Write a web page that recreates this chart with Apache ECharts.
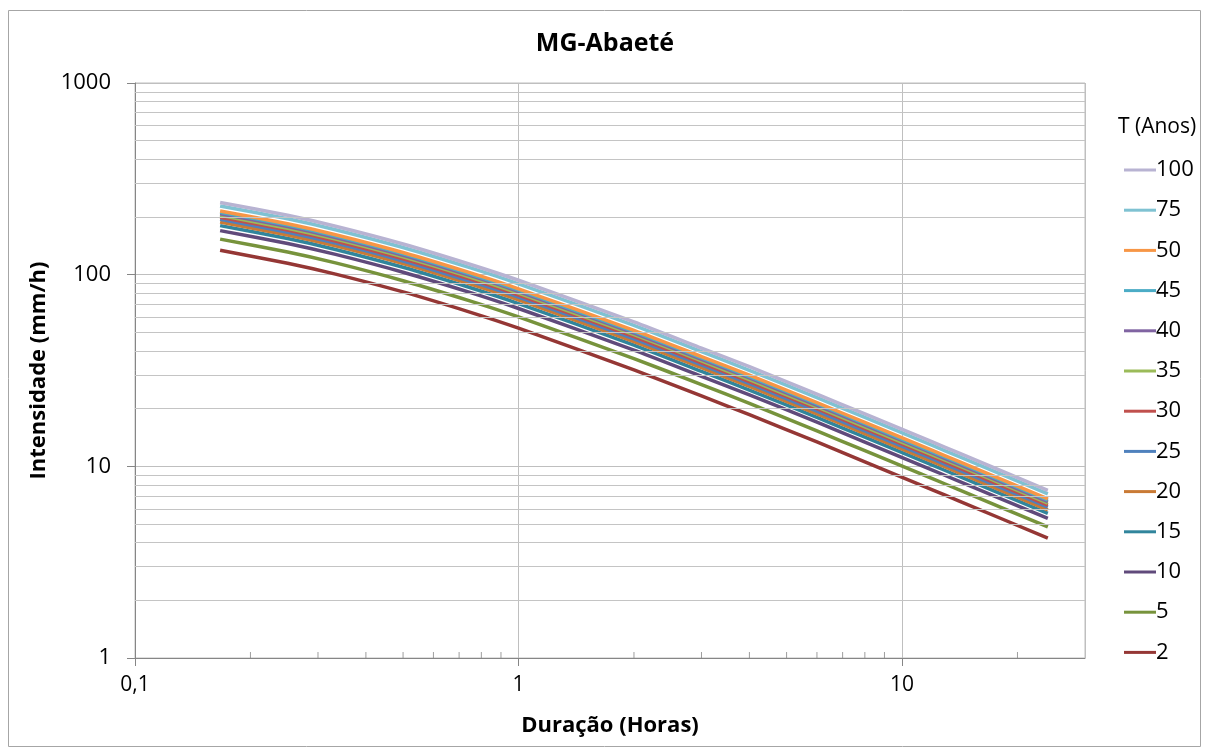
<!DOCTYPE html>
<html>
<head>
<meta charset="utf-8">
<title>MG-Abaeté</title>
<script src="https://cdn.jsdelivr.net/npm/echarts@6/dist/echarts.min.js"></script>
<style>
  html, body { margin: 0; padding: 0; background: #fff; }
  #chart { width: 1210px; height: 756px; }
</style>
</head>
<body>
<div id="chart"></div>
<script>
// duração em horas (10 min ... 24 h)
const duracoes = [0.1667, 0.25, 0.3333, 0.5, 0.75, 1, 2, 3, 4, 6, 8, 12, 14, 24];

// intensidades (mm/h), por período de retorno
const int2   = [134.0, 114.8, 100.7, 81.3, 63.6, 52.6, 31.9, 23.3, 18.6, 13.4, 10.56, 7.54, 6.63, 4.22];
const int5   = [153.3, 131.3, 115.2, 93.0, 72.8, 60.2, 36.5, 26.7, 21.3, 15.3, 12.08, 8.63, 7.58, 4.83];
const int10  = [169.8, 145.5, 127.6, 103.0, 80.6, 66.6, 40.4, 29.5, 23.6, 17.0, 13.38, 9.55, 8.40, 5.35];
const int15  = [180.2, 154.4, 135.4, 109.3, 85.5, 70.7, 42.9, 31.3, 25.0, 18.0, 14.20, 10.14, 8.92, 5.68];
const int20  = [188.0, 161.1, 141.3, 114.1, 89.2, 73.8, 44.8, 32.7, 26.1, 18.8, 14.82, 10.58, 9.30, 5.92];
const int25  = [194.3, 166.5, 146.0, 117.9, 92.2, 76.3, 46.3, 33.8, 27.0, 19.4, 15.31, 10.93, 9.61, 6.12];
const int30  = [199.5, 170.9, 149.9, 121.1, 94.7, 78.3, 47.5, 34.7, 27.7, 20.0, 15.72, 11.23, 9.87, 6.28];
const int35  = [204.1, 174.8, 153.4, 123.8, 96.9, 80.1, 48.6, 35.5, 28.3, 20.4, 16.08, 11.48, 10.10, 6.43];
const int40  = [208.1, 178.3, 156.4, 126.3, 98.8, 81.7, 49.5, 36.2, 28.9, 20.8, 16.40, 11.71, 10.30, 6.55];
const int45  = [211.7, 181.4, 159.1, 128.5, 100.5, 83.1, 50.4, 36.8, 29.4, 21.2, 16.68, 11.91, 10.48, 6.67];
const int50  = [215.1, 184.3, 161.6, 130.5, 102.1, 84.4, 51.2, 37.4, 29.9, 21.5, 16.95, 12.10, 10.64, 6.77];
const int75  = [228.3, 195.6, 171.6, 138.5, 108.4, 89.6, 54.4, 39.7, 31.7, 22.8, 17.99, 12.85, 11.30, 7.19];
const int100 = [238.1, 204.0, 178.9, 144.5, 113.0, 93.5, 56.7, 41.4, 33.1, 23.8, 18.77, 13.40, 11.78, 7.50];

// ordem da legenda (de cima para baixo)
const periodos = ['100', '75', '50', '45', '40', '35', '30', '25', '20', '15', '10', '5', '2'];
const intensidades = {
  '2': int2, '5': int5, '10': int10, '15': int15, '20': int20, '25': int25, '30': int30,
  '35': int35, '40': int40, '45': int45, '50': int50, '75': int75, '100': int100
};
const cores = {
  '100': '#b8b3d2', '75': '#7fc2d2', '50': '#f79646', '45': '#4bacc6', '40': '#8064a2',
  '35': '#9bbb59', '30': '#c0504d', '25': '#4f81bd', '20': '#c97a35', '15': '#31859c',
  '10': '#604a7b', '5': '#77933c', '2': '#953735'
};

// linhas de grade secundárias e marcas menores
const gradeY = [2, 3, 4, 5, 6, 7, 8, 9, 20, 30, 40, 50, 60, 70, 80, 90, 200, 300, 400, 500, 600, 700, 800, 900];
const marcasX = [0.2, 0.3, 0.4, 0.5, 0.6, 0.7, 0.8, 0.9, 2, 3, 4, 5, 6, 7, 8, 9, 20];

const chart = echarts.init(document.getElementById('chart'));

const series = periodos.slice().reverse().map(function (t) {
  return {
    name: t,
    type: 'line',
    data: duracoes.map(function (d, i) { return [d, intensidades[t][i]]; }),
    symbol: 'none',
    smooth: 0.2,
    lineStyle: { width: 3.5, color: cores[t] },
    itemStyle: { color: cores[t] },
    z: 3
  };
});

// série auxiliar: marcas menores do eixo x + grade menor do eixo y
series.push({
  name: 'aux',
  type: 'scatter',
  silent: true,
  symbol: 'rect',
  symbolSize: [1, 6],
  symbolOffset: [0, -3],
  itemStyle: { color: '#868686' },
  data: marcasX.map(function (v) { return [v, 1]; }),
  markLine: {
    silent: true,
    symbol: ['none', 'none'],
    label: { show: false },
    lineStyle: { color: '#c4c4c4', width: 1, type: 'solid' },
    data: gradeY.map(function (v) { return { yAxis: v }; })
  },
  z: 1
});

chart.setOption({
  animation: false,
  backgroundColor: '#fff',
  textStyle: { fontFamily: 'Open Sans' },
  title: [
    {
      text: 'MG-Abaeté',
      left: 'center',
      top: 26,
      textStyle: { fontSize: 25, fontWeight: 'bold', color: '#000', fontFamily: 'Open Sans' }
    },
    {
      text: 'T (Anos)',
      left: 1113,
      top: 112,
      textStyle: { fontSize: 21, fontWeight: 'normal', color: '#000', fontFamily: 'Open Sans' }
    }
  ],
  graphic: [{
    type: 'rect',
    shape: { x: 8.5, y: 10.5, width: 1192, height: 736 },
    style: { fill: 'none', stroke: '#a6a6a6', lineWidth: 1 },
    silent: true
  }],
  legend: {
    orient: 'vertical',
    left: 1119,
    top: 154,
    data: periodos,
    icon: 'rect',
    itemWidth: 32,
    itemHeight: 3,
    itemGap: 18.2,
    textStyle: { fontSize: 22, lineHeight: 22, color: '#000', fontFamily: 'Open Sans', padding: [0, 0, 0, -5] }
  },
  grid: {
    left: 135,
    right: 125,
    top: 83,
    bottom: 98,
    show: true,
    borderColor: '#bfbfbf',
    borderWidth: 1
  },
  xAxis: {
    type: 'log',
    logBase: 10,
    min: 0.1,
    max: 30,
    name: 'Duração (Horas)',
    nameLocation: 'middle',
    nameGap: 57,
    nameTextStyle: { fontSize: 22, fontWeight: 'bold', color: '#000', fontFamily: 'Open Sans' },
    axisLine: { lineStyle: { color: '#868686', width: 1 } },
    axisTick: { show: true, length: 8, lineStyle: { color: '#868686' } },
    axisLabel: {
      fontSize: 21,
      color: '#000',
      margin: 17,
      showMaxLabel: false,
      formatter: function (v) { return String(v).replace('.', ','); }
    },
    splitLine: { show: true, lineStyle: { color: '#bfbfbf', width: 1 } }
  },
  yAxis: {
    type: 'log',
    logBase: 10,
    min: 1,
    max: 1000,
    name: 'Intensidade (mm/h)',
    nameLocation: 'middle',
    nameGap: 80,
    nameTextStyle: { fontSize: 22, fontWeight: 'bold', color: '#000', fontFamily: 'Open Sans' },
    axisLine: { lineStyle: { color: '#868686', width: 1 } },
    axisTick: { show: true, length: 8, lineStyle: { color: '#868686' } },
    axisLabel: {
      fontSize: 22,
      color: '#000',
      margin: 24,
      formatter: function (v) { return String(v); }
    },
    splitLine: { show: true, lineStyle: { color: '#bfbfbf', width: 1 } }
  },
  series: series
});

window.onresize = function () {
  chart.resize();
};
</script>
</body>
</html>
